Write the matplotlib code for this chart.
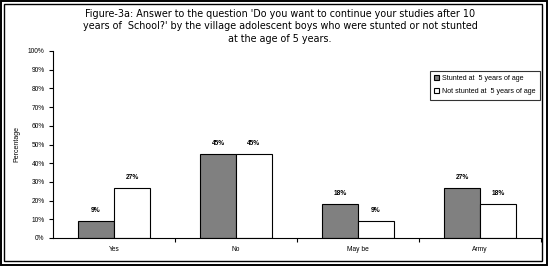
import numpy as np
import matplotlib.pyplot as plt
from matplotlib.patches import Rectangle
from matplotlib.ticker import FixedLocator

plt.rcParams['font.family'] = ['Liberation Sans', 'DejaVu Sans']

categories = ['Yes', 'No', 'May be', 'Army']
stunted = [9, 45, 18, 27]
not_stunted = [27, 45, 9, 18]
stunted_labels = ['9%', '45%', '18%', '27%']
not_stunted_labels = ['27%', '45%', '9%', '18%']
yticks = list(range(0, 101, 10))

W, H = 550, 267
fig = plt.figure(figsize=(W / 100, H / 100), dpi=100)

# plot area in pixels of the reference
left, right, top, bottom = 53, 541, 51, 238
ax = fig.add_axes([left / W, 1 - bottom / H, (right - left) / W, (bottom - top) / H])

x = np.arange(len(categories))
bw = 0.295
b1 = ax.bar(x - bw / 2, stunted, bw, color='#808080', edgecolor='black',
            linewidth=0.8, label='Stunted at  5 years of age')
b2 = ax.bar(x + bw / 2, not_stunted, bw, color='white', edgecolor='black',
            linewidth=0.8, label='Not stunted at  5 years of age')
ax.bar_label(b1, labels=stunted_labels, padding=5, fontsize=4.8, fontweight='bold')
ax.bar_label(b2, labels=not_stunted_labels, padding=5, fontsize=4.8, fontweight='bold')

ax.set_xlim(-0.5, len(categories) - 0.5)
ax.set_ylim(0, 100)
ax.set_yticks(yticks)
ax.set_yticklabels([f'{t}%' for t in yticks], fontsize=4.8)
ax.set_xticks(x)
ax.set_xticklabels(categories, fontsize=4.8)
ax.tick_params(axis='x', length=0, pad=6)
ax.xaxis.set_minor_locator(FixedLocator(np.arange(0.5, len(categories), 1.0)))
ax.tick_params(axis='x', which='minor', length=3, width=0.8, direction='out')
ax.tick_params(axis='y', length=3, width=0.8, pad=3)
for s in ['top', 'right']:
    ax.spines[s].set_visible(False)
for s in ['left', 'bottom']:
    ax.spines[s].set_linewidth(0.8)
ax.set_ylabel('Percentage', fontsize=5)
ax.yaxis.set_label_coords((20 - left) / (right - left), 0.5)

leg = ax.legend(loc='upper left', bbox_to_anchor=((430 - left) / (right - left), 1 - (71 - top) / (bottom - top)),
                fontsize=5.1, frameon=True, fancybox=False, edgecolor='black',
                handlelength=0.7, handleheight=0.7, handletextpad=0.4,
                borderpad=0.6, labelspacing=0.85, borderaxespad=0)
leg.get_frame().set_linewidth(0.8)

fig.text(280 / W, 1 - 9 / H,
         "Figure-3a: Answer to the question 'Do you want to continue your studies after 10\n"
         "years of  School?' by the village adolescent boys who were stunted or not stunted\n"
         "at the age of 5 years.",
         ha='center', va='top', fontsize=6.9, linespacing=1.3, family=['DejaVu Sans'])

# double frame around the figure
fig.patches.append(Rectangle((0.5 / W, 2 / H), 546.5 / W, 264.5 / H, transform=fig.transFigure,
                             fill=False, edgecolor='black', linewidth=1.4))
fig.patches.append(Rectangle((3.5 / W, 6 / H), 538.5 / W, 257.5 / H, transform=fig.transFigure,
                             fill=False, edgecolor='black', linewidth=1.0))

fig.savefig('out.png', dpi=100)
